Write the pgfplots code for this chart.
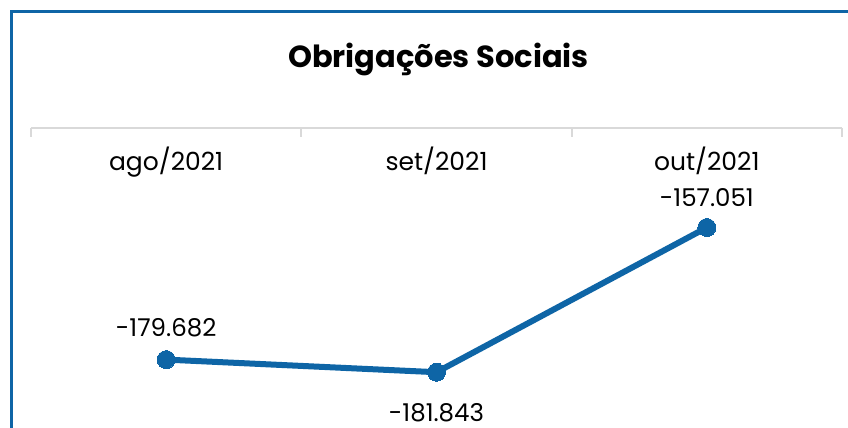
\documentclass[border=0pt]{standalone}
\usepackage{pgfplots}
\pgfplotsset{compat=1.18}
\usepackage{fontspec}
\setmainfont{Poppins}
\definecolor{ser}{RGB}{14,101,166}
\definecolor{axg}{RGB}{217,217,217}
\begin{document}
\begin{tikzpicture}[x=1pt,y=1pt]
\useasboundingbox (0,0) rectangle (848,428);
\fill[white] (0,0) rectangle (848,428);
\draw[ser, line width=3pt] (11.5,0) -- (11.5,416.5) -- (848,416.5);
\node[font=\fontsize{30.5}{36}\selectfont\bfseries, anchor=base] at (438.5,360) {Obrigações Sociais};
\begin{axis}[
  at={(31pt,0pt)}, anchor=south west,
  scale only axis, width=811pt, height=300pt,
  xmin=-0.5, xmax=2.5, ymin=-191400, ymax=-140000,
  axis y line=none,
  axis x line*=top,
  x axis line style={draw=axg, line width=2pt, -},
  xtick={0,1,2}, xticklabels={ago/2021,set/2021,out/2021},
  major tick length=0pt,
  xticklabel style={font=\fontsize{25}{30}\selectfont, anchor=base, yshift=-42pt},
  extra x ticks={-0.5,0.5,1.5,2.5}, extra x tick labels={},
  extra x tick style={major tick length=9pt, tick align=inside, tick style={draw=axg, line width=2pt}},
  clip=false,
]
\addplot[ser, line width=6pt, line join=round, mark=*, mark size=9pt,
  mark options={fill=ser, draw=ser, line width=0pt},
  nodes near coords, point meta=explicit symbolic,
  visualization depends on={\thisrow{dy} \as \dy},
  every node near coord/.append style={font=\fontsize{24.5}{29}\selectfont, text=black, anchor=center, yshift=\dy pt}]
  table[x=x, y=y, meta=lab] {
x y lab dy
0 -179682 -179.682 32
1 -181843 -181.843 -40
2 -157051 -157.051 30
};
\end{axis}
\end{tikzpicture}
\end{document}
